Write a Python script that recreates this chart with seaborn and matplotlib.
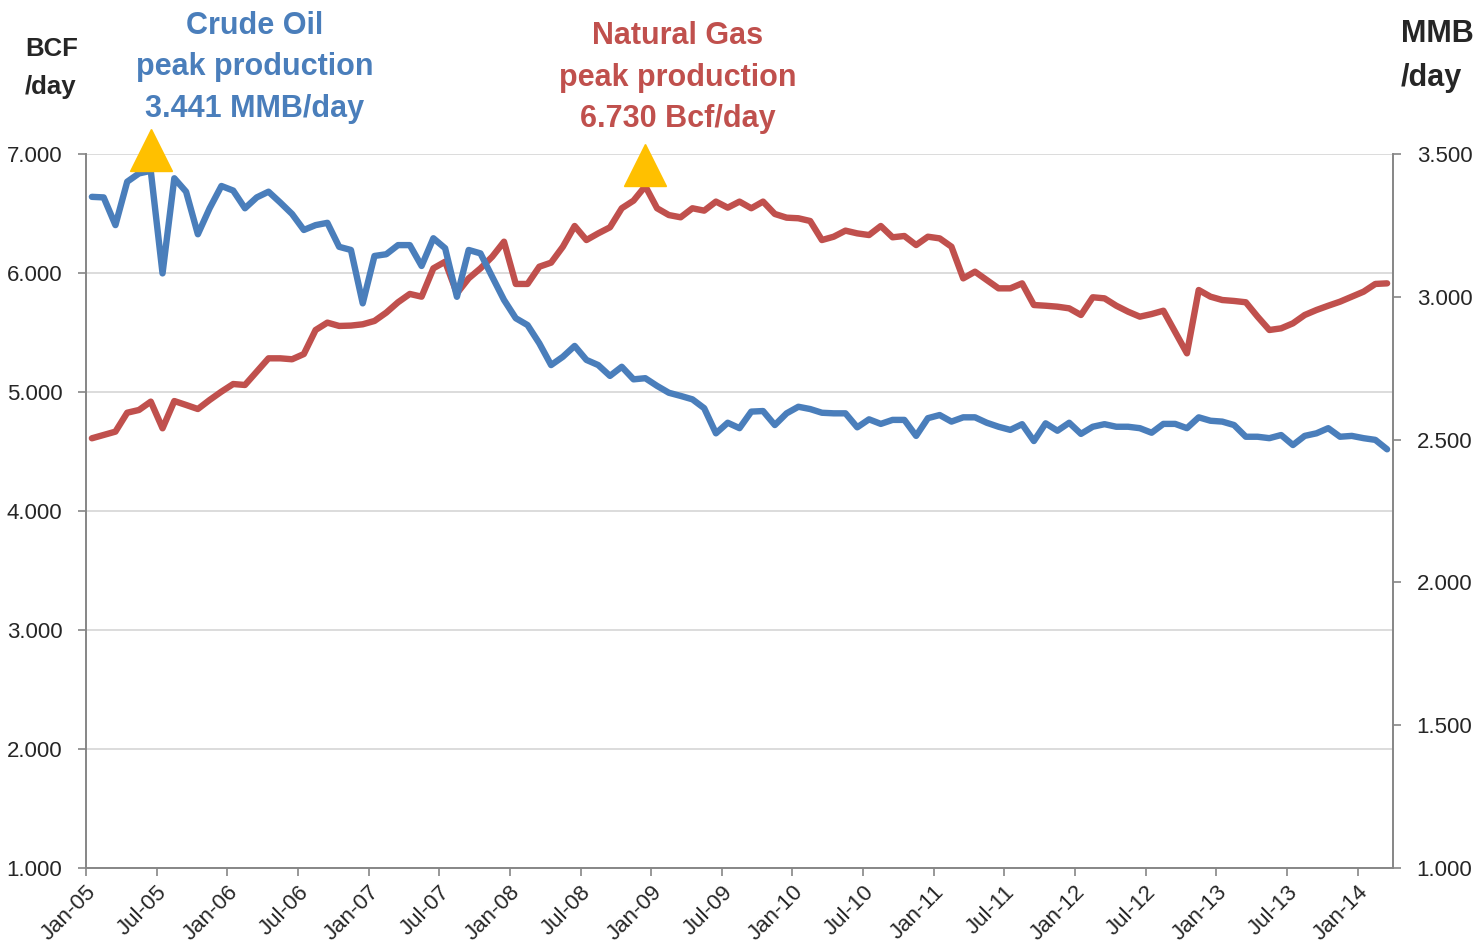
import numpy as np
import pandas as pd
import matplotlib
matplotlib.use('Agg')
import matplotlib.pyplot as plt
import matplotlib.transforms as mtransforms
import seaborn as sns


# ---------------------------
# DATA (monthly, Jan-05 .. Mar-14)
# ---------------------------
gas_bcf = [
    4.611, 4.639, 4.667, 4.826, 4.849, 4.919, 4.695, 4.924, 4.891, 4.857, 4.933, 5.003,
    5.067, 5.059, 5.171, 5.283, 5.283, 5.275, 5.319, 5.521, 5.583, 5.555, 5.558, 5.569,
    5.597, 5.667, 5.754, 5.824, 5.801, 6.039, 6.095, 5.829, 5.955, 6.039, 6.137, 6.263,
    5.908, 5.908, 6.053, 6.087, 6.221, 6.395, 6.277, 6.333, 6.384, 6.544, 6.608, 6.730,
    6.544, 6.487, 6.468, 6.544, 6.524, 6.600, 6.549, 6.600, 6.544, 6.600, 6.496, 6.465,
    6.460, 6.437, 6.277, 6.305, 6.356, 6.333, 6.319, 6.395, 6.300, 6.311, 6.235, 6.305,
    6.291, 6.221, 5.955, 6.011, 5.941, 5.871, 5.871, 5.913, 5.731, 5.725, 5.717, 5.703,
    5.647, 5.796, 5.787, 5.725, 5.675, 5.633, 5.655, 5.683, 5.504, 5.325, 5.857, 5.801,
    5.773, 5.765, 5.754, 5.633, 5.521, 5.535, 5.577, 5.647, 5.689, 5.725, 5.759, 5.801,
    5.843, 5.908, 5.913,
]

oil_mmb = [
    3.350, 3.348, 3.251, 3.403, 3.432, 3.441, 3.082, 3.415, 3.368, 3.219, 3.310, 3.388,
    3.372, 3.310, 3.348, 3.368, 3.330, 3.290, 3.234, 3.251, 3.259, 3.175, 3.164, 2.977,
    3.143, 3.149, 3.181, 3.181, 3.108, 3.205, 3.170, 3.000, 3.164, 3.152, 3.070, 2.989,
    2.925, 2.901, 2.837, 2.761, 2.790, 2.828, 2.779, 2.761, 2.723, 2.755, 2.711, 2.715,
    2.688, 2.664, 2.653, 2.641, 2.610, 2.522, 2.559, 2.540, 2.598, 2.600, 2.551, 2.592,
    2.615, 2.607, 2.594, 2.592, 2.592, 2.543, 2.571, 2.555, 2.569, 2.569, 2.513, 2.575,
    2.586, 2.563, 2.578, 2.578, 2.559, 2.545, 2.534, 2.554, 2.495, 2.557, 2.531, 2.559,
    2.520, 2.545, 2.554, 2.545, 2.545, 2.540, 2.524, 2.555, 2.555, 2.540, 2.578, 2.566,
    2.563, 2.551, 2.510, 2.510, 2.505, 2.516, 2.481, 2.513, 2.522, 2.540, 2.510, 2.513,
    2.505, 2.499, 2.466,
]

tick_labels = [
    'Jan-05', 'Jul-05', 'Jan-06', 'Jul-06', 'Jan-07', 'Jul-07', 'Jan-08', 'Jul-08',
    'Jan-09', 'Jul-09', 'Jan-10', 'Jul-10', 'Jan-11', 'Jul-11', 'Jan-12', 'Jul-12',
    'Jan-13', 'Jul-13', 'Jan-14',
]

left_ticks = [1, 2, 3, 4, 5, 6, 7]
right_ticks = [1.0, 1.5, 2.0, 2.5, 3.0, 3.5]

oil_note = "Crude Oil\npeak production\n3.441 MMB/day"
gas_note = "Natural Gas\npeak production\n6.730 Bcf/day"

GAS_COLOR = '#C0504D'
OIL_COLOR = '#4A7EBB'
PEAK_COLOR = '#FFC000'
AXIS_COLOR = '#868686'

# ---------------------------
# STYLE
# ---------------------------
sns.set_style('white')
plt.rcParams['font.family'] = ['Liberation Sans', 'DejaVu Sans']

df = pd.DataFrame({
    'month': np.arange(len(gas_bcf)),
    'gas': gas_bcf,
    'oil': oil_mmb,
})

fig = plt.figure(figsize=(14.76, 9.5), dpi=100)
ax = fig.add_axes([86 / 1476, 82 / 950, 1307 / 1476, 714 / 950])
ax2 = ax.twinx()

sns.lineplot(data=df, x='month', y='gas', ax=ax, color=GAS_COLOR,
             lw=4.6, solid_capstyle='round', solid_joinstyle='round')
sns.lineplot(data=df, x='month', y='oil', ax=ax2, color=OIL_COLOR,
             lw=4.6, solid_capstyle='round', solid_joinstyle='round')

# ---------------------------
# AXES
# ---------------------------
n = len(gas_bcf)
ax.set_xlim(-0.5, n - 0.5)
ax.set_ylim(1, 7)
ax2.set_ylim(1.0, 3.5)

ax.set_xticks(np.arange(-0.5, n, 6)[:len(tick_labels)])
ax.set_xticklabels(tick_labels, rotation=45, ha='right', rotation_mode='anchor')
ax.set_yticks(left_ticks)
ax.set_yticklabels([f'{v:.3f}' for v in left_ticks])
ax2.set_yticks(right_ticks)
ax2.set_yticklabels([f'{v:.3f}' for v in right_ticks])

ax.set_xlabel('')
ax.set_ylabel('')
ax2.set_ylabel('')

ax.yaxis.grid(True, color='#d9d9d9', lw=1.3)
ax.xaxis.grid(False)

for s in ['top', 'right']:
    ax.spines[s].set_visible(False)
for s in ['top', 'left', 'bottom']:
    ax2.spines[s].set_visible(False)
for sp in [ax.spines['left'], ax.spines['bottom'], ax2.spines['right']]:
    sp.set_color(AXIS_COLOR)
    sp.set_linewidth(1.4)

ax.tick_params(axis='x', bottom=True, length=6, width=1.2, color=AXIS_COLOR,
               labelsize=16, pad=4)
ax.tick_params(axis='y', left=True, length=6, width=1.2, color=AXIS_COLOR,
               labelsize=16, pad=11)
ax2.tick_params(axis='y', right=True, length=6, width=1.2, color=AXIS_COLOR,
                labelsize=16, pad=11)

# ---------------------------
# PEAK MARKERS & NOTES
# ---------------------------
lift = mtransforms.ScaledTranslation(0, 0.21, fig.dpi_scale_trans)
oil_i = int(np.argmax(oil_mmb))
gas_i = int(np.argmax(gas_bcf))
ax2.plot(oil_i, oil_mmb[oil_i], marker='^', ms=30, color=PEAK_COLOR,
         transform=ax2.transData + lift, clip_on=False)
ax2.plot(gas_i, 1 + (gas_bcf[gas_i] - 1) * 2.5 / 6, marker='^', ms=30,
         color=PEAK_COLOR, transform=ax2.transData + lift, clip_on=False)

fig.text(255 / 1476, 1 - 67 / 950, oil_note, ha='center', va='center',
         fontsize=22, fontweight='bold', color=OIL_COLOR, linespacing=1.5)
fig.text(678 / 1476, 1 - 78 / 950, gas_note, ha='center', va='center',
         fontsize=22, fontweight='bold', color=GAS_COLOR, linespacing=1.5)

fig.text(25 / 1476, 1 - 68 / 950, 'BCF\n/day', ha='left', va='center',
         fontsize=18.5, fontweight='bold', linespacing=1.75)
fig.text(1401 / 1476, 1 - 56 / 950, 'MMB\n/day', ha='left', va='center',
         fontsize=22, fontweight='bold', linespacing=1.6)

fig.savefig('out.png', dpi=100)
